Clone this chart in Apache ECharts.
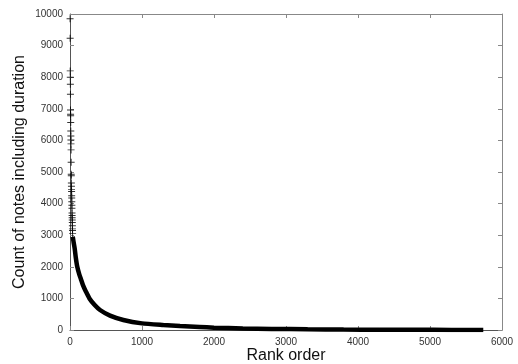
<!DOCTYPE html>
<html>
<head>
    <meta charset="utf-8">
    <title>Rank order</title>
    <script src="https://cdn.jsdelivr.net/npm/echarts@6/dist/echarts.min.js"></script>
    <style>
        html, body { margin: 0; padding: 0; background: #fff; }
        #main { width: 518px; height: 364px; }
    </style>
</head>
<body>
<div id="main"></div>
<script type="text/javascript">
    // first ranks, drawn as separate crosses
    var headRanks = [1, 2, 3, 4, 5, 6, 7, 8, 9, 10, 11, 12, 13, 14, 15, 16, 17, 18,
        19, 20, 21, 22, 23, 24, 25, 26, 27, 28, 29, 30, 31, 32, 33, 34, 35, 36];
    var headCounts = [9850, 9230, 8200, 8000, 7780, 7460, 6960, 6830, 6780, 6570, 6300, 6140,
        6010, 5890, 5700, 5310, 4930, 4880, 4650, 4550, 4450, 4380, 4250, 4180,
        4060, 3950, 3850, 3700, 3620, 3550, 3480, 3400, 3300, 3200, 3150, 3050];

    // remaining ranks, dense enough to look like a thick band
    var tailRanks = [37, 42, 50, 65, 80, 101, 130, 150, 180, 220, 270, 343, 417, 556, 741,
        1000, 1296, 1528, 1800, 2000, 2400, 2800, 3300, 3800, 4300, 4800, 5300, 5740];
    var tailCounts = [2950, 2900, 2780, 2580, 2300, 2000, 1750, 1620, 1420, 1220, 1000, 790, 633, 453, 316,
        210, 158, 125, 95, 75, 50, 35, 22, 14, 9, 6, 3, 1];

    var xTicks = [0, 1000, 2000, 3000, 4000, 5000, 6000];
    var yTicks = [0, 1000, 2000, 3000, 4000, 5000, 6000, 7000, 8000, 9000, 10000];

    var plus = 'path://M0,4.3L10,4.3L10,5.7L0,5.7Z M4.3,0L5.7,0L5.7,10L4.3,10Z';

    var head = headRanks.map(function (r, i) { return [r, headCounts[i]]; });
    var tail = tailRanks.map(function (r, i) { return [r, tailCounts[i]]; });

    var myChart = echarts.init(document.getElementById('main'));

    var tickStyle = { inside: true, length: 4, lineStyle: { color: '#888' } };
    var lineStyle = { show: true, onZero: false, lineStyle: { color: '#555', width: 1 } };
    var labelFont = {
        fontFamily: 'Liberation Sans', fontSize: 10, color: '#333',
        formatter: function (v) { return String(v); }
    };

    var option = {
        backgroundColor: '#fff',
        animation: false,
        grid: { left: 70, right: 16, top: 14, bottom: 34, containLabel: false, outerBoundsMode: 'none' },
        xAxis: [{
            type: 'value',
            min: xTicks[0],
            max: xTicks[xTicks.length - 1],
            interval: 1000,
            name: 'Rank order',
            nameLocation: 'middle',
            nameGap: 18,
            nameMoveOverlap: false,
            nameTextStyle: { fontFamily: 'Liberation Sans', fontSize: 16, color: '#111' },
            axisLine: lineStyle,
            axisTick: tickStyle,
            axisLabel: Object.assign({ margin: 7 }, labelFont),
            splitLine: { show: false }
        }, {
            type: 'value',
            position: 'top',
            min: xTicks[0],
            max: xTicks[xTicks.length - 1],
            interval: 1000,
            axisLine: { show: true, onZero: false, lineStyle: { color: '#888', width: 1 } },
            axisTick: tickStyle,
            axisLabel: { show: false },
            splitLine: { show: false }
        }],
        yAxis: [{
            type: 'value',
            min: yTicks[0],
            max: yTicks[yTicks.length - 1],
            interval: 1000,
            name: 'Count of notes including duration',
            nameLocation: 'middle',
            nameGap: 42,
            nameMoveOverlap: false,
            nameTextStyle: { fontFamily: 'Liberation Sans', fontSize: 16, color: '#111' },
            axisLine: lineStyle,
            axisTick: tickStyle,
            axisLabel: Object.assign({ margin: 7 }, labelFont),
            splitLine: { show: false }
        }, {
            type: 'value',
            position: 'right',
            min: yTicks[0],
            max: yTicks[yTicks.length - 1],
            interval: 1000,
            axisLine: { show: true, onZero: false, lineStyle: { color: '#888', width: 1 } },
            axisTick: tickStyle,
            axisLabel: { show: false },
            splitLine: { show: false }
        }],
        series: [{
            type: 'scatter',
            data: head,
            symbol: plus,
            symbolSize: 7,
            itemStyle: { color: '#000' }
        }, {
            type: 'line',
            data: tail,
            showSymbol: false,
            smooth: 0.2,
            lineStyle: { color: '#000', width: 4.5 },
            z: 3
        }]
    };

    myChart.setOption(option);
</script>
</body>
</html>
